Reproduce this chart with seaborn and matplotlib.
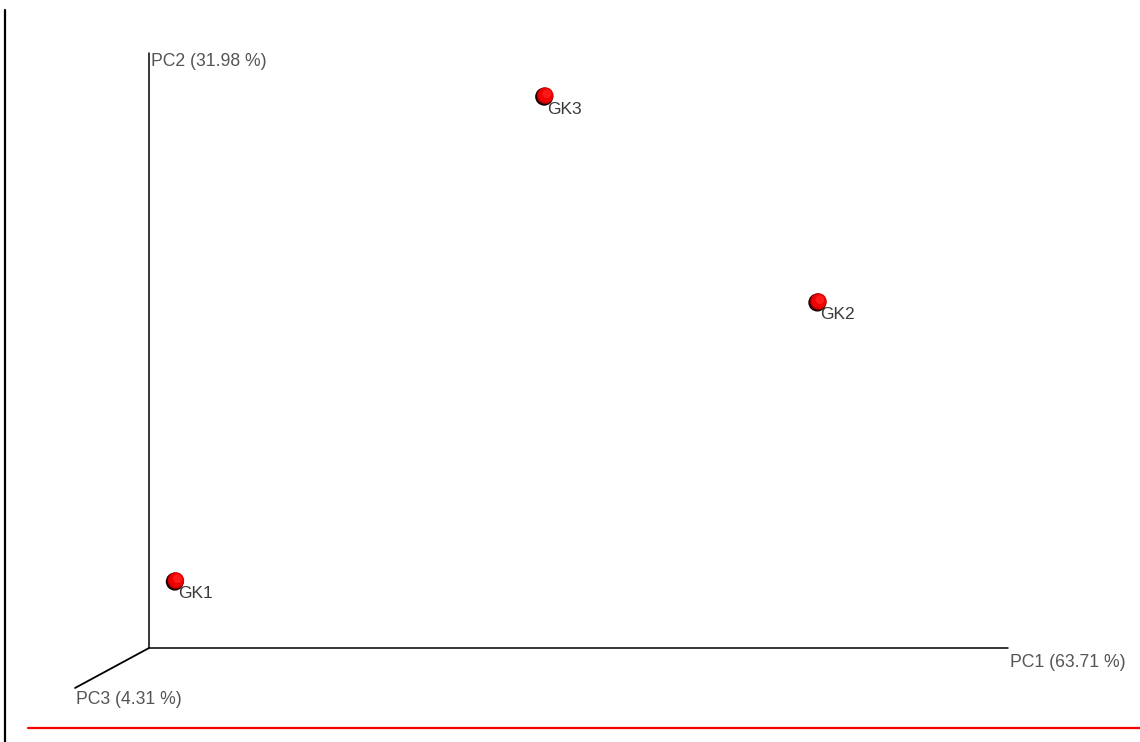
import matplotlib
matplotlib.use("Agg")
import matplotlib.pyplot as plt
import seaborn as sns
import pandas as pd
from matplotlib.lines import Line2D
from matplotlib.transforms import offset_copy

sns.set_theme(style="white")
plt.rcParams['font.family'] = ['Liberation Sans', 'DejaVu Sans']

# data (normalized PCA scores, projected on the PC1/PC2 plane)
samples = ["GK1", "GK2", "GK3"]
pc1 = [0.031, 0.779, 0.461]
pc2 = [0.113, 0.582, 0.928]
axis_labels = ["PC1 (63.71 %)", "PC2 (31.98 %)", "PC3 (4.31 %)"]
df = pd.DataFrame({"sample": samples, "PC1": pc1, "PC2": pc2})

W, H = 1140, 742
fig = plt.figure(figsize=(W / 100, H / 100), dpi=100)
ox, oy = 149, 648
x1, y2 = 1008, 53
ax = fig.add_axes([ox / W, (H - oy) / H, (x1 - ox) / W, (oy - y2) / H])
ax.set_xlim(0, 1)
ax.set_ylim(0, 1)
ax.axis("off")

# axes lines
ax.plot([0, 1], [0, 0], color="black", lw=1.1, clip_on=False)
ax.plot([0, 0], [0, 1], color="black", lw=1.1, clip_on=False)
ax.plot([0, -0.0861], [0, -0.0672], color="black", lw=1.3, clip_on=False)

# points (sphere-like shading)
def layer(size, color, dx, dy, alpha=1.0):
    sns.scatterplot(data=df, x="PC1", y="PC2", ax=ax, s=size, color=color,
                    edgecolor="none", legend=False, clip_on=False, alpha=alpha)
    coll = ax.collections[-1]
    coll.set_offset_transform(offset_copy(ax.transData, fig=fig, x=dx, y=dy, units="dots"))

layer(170, "#200000", -0.8, -0.8)
layer(140, "#d40000", 0.3, 0.3)
layer(100, "#f00000", 0.8, 0.8)
layer(40, "#ff2020", 1.8, 2.0, alpha=0.8)

for _, r in df.iterrows():
    ax.annotate(r["sample"], (r["PC1"], r["PC2"]), xytext=(1.5, -9.5),
                textcoords="offset points", ha="left", va="center",
                fontsize=12.5, color="#3a3a3a", annotation_clip=False)

# axis labels
ax.annotate(axis_labels[0], (1, 0), xytext=(1.5, -10.5), textcoords="offset points",
            ha="left", va="center", fontsize=12.7, color="#555555", annotation_clip=False)
ax.annotate(axis_labels[1], (0, 1), xytext=(1.5, -6), textcoords="offset points",
            ha="left", va="center", fontsize=12.7, color="#555555", annotation_clip=False)
ax.annotate(axis_labels[2], (-0.0861, -0.0672), xytext=(0.5, -8.5), textcoords="offset points",
            ha="left", va="center", fontsize=12.7, color="#555555", annotation_clip=False)

# page decorations
fig.add_artist(Line2D([4.5 / W, 4.5 / W], [0, (H - 10) / H], color="black", lw=1.6))
fig.add_artist(Line2D([28 / W, 1], [(H - 728) / H, (H - 728) / H], color="red", lw=1.6))

fig.savefig("out.png", dpi=100, facecolor="white")
